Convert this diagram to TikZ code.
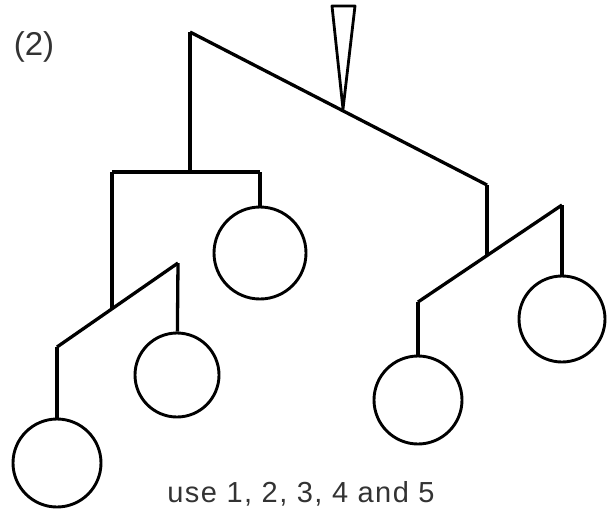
\documentclass[tikz,border=0pt]{standalone}
\usepackage{fontspec}
\setmainfont{Liberation Sans}
\begin{document}
\begin{tikzpicture}[x=1pt, y=-1pt,
  bar/.style={line width=3.3pt, line join=miter},
  weight/.style={draw, circle, line width=2.9pt, inner sep=0pt}]
\useasboundingbox (0,0) rectangle (607,509);

% Draw the hook and the top beam
\coordinate (hookL) at (332,6);
\coordinate (hookR) at (355,6);
\coordinate (pivot) at (343,109);
\coordinate (topL) at (190,32);
\coordinate (topR) at (487,185);
\draw[line width=2.8pt, line join=round] (hookL) -- (hookR) -- (pivot) -- cycle;
\draw[bar] (topL) -- (topR);

% left arm
\coordinate (midL) at (190,172);
\coordinate (barL1) at (112,172);
\coordinate (barL2) at (260,172);
\draw[bar] (topL) -- (midL);
\draw[bar] (barL1) -- (barL2);
\node[weight, minimum size=92pt] (w1) at (260,253) {};
\draw[bar] (barL2) -- (w1);

% lower left arm
\coordinate (jointL) at (112,309);
\coordinate (lowL1) at (57,347);
\coordinate (lowL2) at (178,263);
\draw[bar] (barL1) -- (jointL);
\draw[bar] (lowL1) -- (lowL2);
\node[weight, minimum size=84pt] (w2) at (177,375) {};
\node[weight, minimum size=88pt] (w3) at (57,463) {};
\draw[bar] (lowL2) -- (w2);
\draw[bar] (lowL1) -- (w3);

% right arm
\coordinate (jointR) at (487,256);
\coordinate (barR1) at (418,302);
\coordinate (barR2) at (562,205);
\draw[bar] (topR) -- (jointR);
\draw[bar] (barR1) -- (barR2);
\node[weight, minimum size=86pt] (w4) at (562,319) {};
\node[weight, minimum size=88pt] (w5) at (418,400) {};
\draw[bar] (barR2) -- (w4);
\draw[bar] (barR1) -- (w5);

% texts
\node[anchor=base, text=black!80, font=\fontsize{33}{36}\selectfont] (tag) at (34,55) {(2)};
\node[anchor=base, text=black!80, font=\fontsize{29}{32}\selectfont\addfontfeature{LetterSpace=5}] (usage) at (301,502) {use 1, 2, 3, 4 and 5};
\end{tikzpicture}
\end{document}
